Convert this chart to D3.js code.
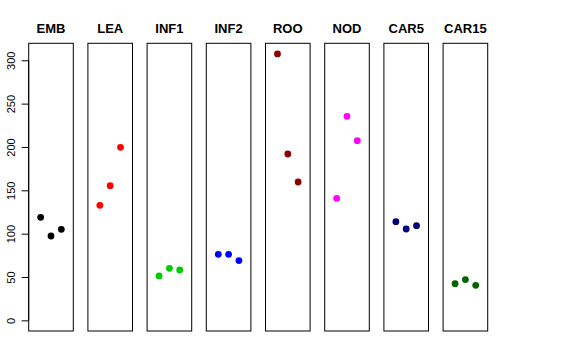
<!DOCTYPE html>
<html>
<head>
<meta charset="utf-8">
<script src="https://cdn.jsdelivr.net/npm/d3@7"></script>
<style>
body { margin: 0; background: #fff; }
text { font-family: "Liberation Sans", Arial, sans-serif; }
</style>
</head>
<body>
<svg></svg>
<script>
var width = 576;
var height = 360;

// panel names and colours
var groups = ["EMB", "LEA", "INF1", "INF2", "ROO", "NOD", "CAR5", "CAR15"];
var colors = ["#000000", "#ff0000", "#00cd00", "#0000ff", "#8b0000", "#ff00ff", "#000080", "#006400"];

// three values per panel
var emb   = [118.8, 97.3, 105.0];
var lea   = [132.7, 155.4, 199.6];
var inf1  = [51.2, 60.0, 58.1];
var inf2  = [76.2, 76.2, 68.9];
var roo   = [307.3, 191.9, 159.6];
var nod   = [140.8, 235.4, 207.3];
var car5  = [113.8, 105.4, 109.2];
var car15 = [42.3, 47.0, 40.4];

var yTicks = [0, 50, 100, 150, 200, 250, 300];

var values = [emb, lea, inf1, inf2, roo, nod, car5, car15];

var svg = d3.select("svg")
  .attr("width", width)
  .attr("height", height);

// "top" is taken by window.top, so use other names
var plotTop = 43.3, plotBottom = 331;
var panelW = 44.6, step = 59.2, left0 = 28.7;

// R style 4% padding around 0..307
var ymin = 0, ymax = 307.3;
var pad = (ymax - ymin) * 0.04;
var y = d3.scaleLinear()
  .domain([ymin - pad, ymax + pad])
  .range([plotBottom, plotTop]);

var x = d3.scaleLinear()
  .domain([-0.16, 4.16])
  .range([0, panelW]);

// y axis on the first panel
var yAxis = d3.axisLeft(y)
  .tickValues(yTicks)
  .tickSize(7)
  .tickPadding(3);

var ax = svg.append("g")
  .attr("transform", "translate(" + left0 + ",0)")
  .call(yAxis);
ax.select(".domain")
  .attr("d", "M0," + y(0) + "V" + y(300))
  .attr("stroke", "#000");
ax.selectAll(".tick line").attr("stroke", "#000");
ax.selectAll(".tick text")
  .attr("font-size", 11)
  .attr("fill", "#000")
  .attr("text-anchor", "middle")
  .attr("x", 0)
  .attr("dy", null)
  .attr("transform", "translate(-17.5,0) rotate(-90)")
  .attr("y", 0)
  .attr("dominant-baseline", "central");

groups.forEach(function(name, i) {
  var g = svg.append("g")
    .attr("transform", "translate(" + (left0 + i * step) + ",0)");

  g.append("rect")
    .attr("x", 0)
    .attr("y", plotTop)
    .attr("width", panelW)
    .attr("height", plotBottom - plotTop)
    .attr("fill", "none")
    .attr("stroke", "#000")
    .attr("stroke-width", 1);

  g.append("text")
    .attr("x", panelW / 2)
    .attr("y", 32.7)
    .attr("text-anchor", "middle")
    .attr("font-weight", "bold")
    .attr("font-size", 13)
    .text(name);

  g.selectAll("circle")
    .data(values[i])
    .enter().append("circle")
    .attr("cx", function(d, j) { return x(j + 1); })
    .attr("cy", function(d) { return y(d); })
    .attr("r", 3.4)
    .attr("fill", colors[i]);
});
</script>
</body>
</html>
